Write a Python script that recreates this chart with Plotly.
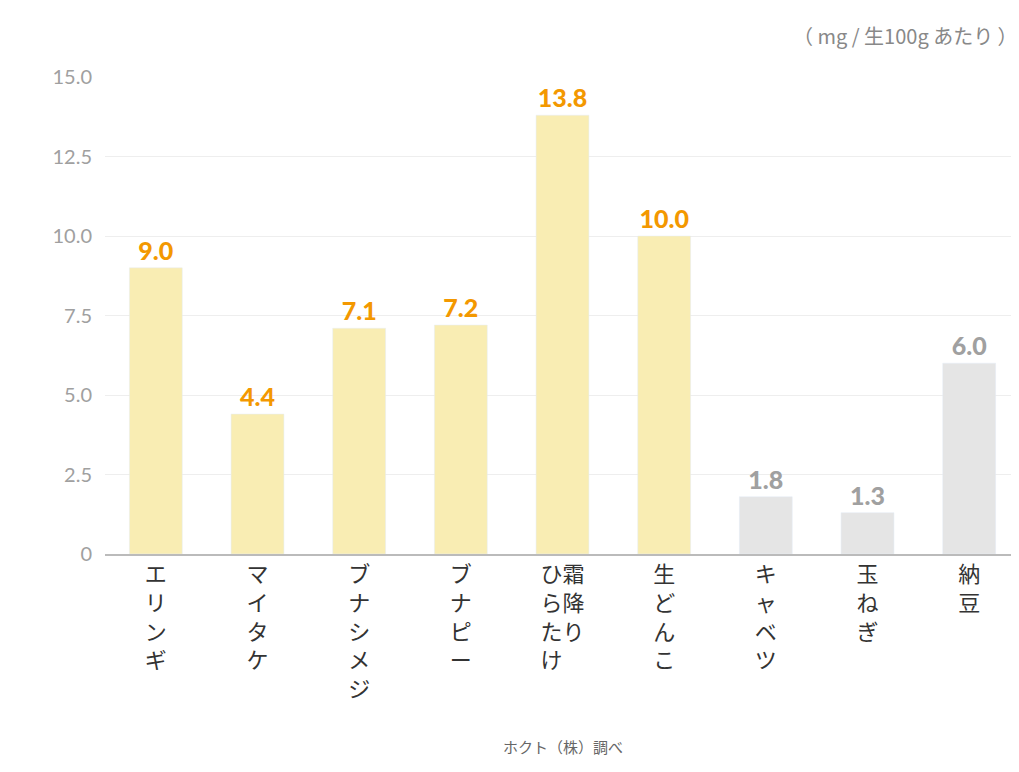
import plotly.graph_objects as go

categories = ["エリンギ", "マイタケ", "ブナシメジ", "ブナピー", "ひらたけ\n霜降り", "生どんこ", "キャベツ", "玉ねぎ", "納豆"]
values = [9.0, 4.4, 7.1, 7.2, 13.8, 10.0, 1.8, 1.3, 6.0]
highlight = [True, True, True, True, True, True, False, False, False]
tick_vals = [0, 2.5, 5, 7.5, 10, 12.5, 15]
tick_text = ["0", "2.5", "5.0", "7.5", "10.0", "12.5", "15.0"]

def vertical(s):
    cols = s.split("\n")
    n = max(len(c) for c in cols)
    rows = []
    for i in range(n):
        row = []
        for c in cols:
            row.append(c[i] if i < len(c) else "\u3000")
        rows.append("".join(row))
    return "<br>".join(rows)

labels = [vertical(c) for c in categories]
bar_colors = ["#F9EDB3" if h else "#E5E5E5" for h in highlight]
text_colors = ["#F39800" if h else "#A0A0A0" for h in highlight]

fig = go.Figure(go.Bar(
    x=list(range(len(values))), y=values, marker_color=bar_colors, width=0.52,
    text=[f"{v:.1f}" for v in values], textposition="outside",
    textfont=dict(color=text_colors, size=25, family="Lato Black, Lato"),
    cliponaxis=False,
))
fig.update_layout(
    width=1019, height=772, plot_bgcolor="white", paper_bgcolor="white",
    margin=dict(l=97, r=7, t=69, b=226), showlegend=False,
    font=dict(family="Noto Sans CJK JP"),
)
fig.update_xaxes(tickvals=list(range(len(values))), ticktext=labels, automargin=False,
                 tickfont=dict(size=22, color="#333333", family="Noto Sans CJK JP"),
                 showline=True, linecolor="#BBBBBB", linewidth=2, ticks="",
                 range=[-0.5, len(values) - 0.5])
fig.update_yaxes(range=[0, 15], tickvals=tick_vals, ticktext=tick_text, automargin=False,
                 tickfont=dict(size=20, color="#A0A0A0", family="Lato"),
                 gridcolor="#EEEEEE", zeroline=False, ticklen=8, ticks="outside",
                 tickcolor="white")
fig.add_annotation(text="（ mg / 生100g あたり ）", xref="paper", yref="paper", x=1, y=1,
                   yshift=42, xanchor="right", yanchor="middle", showarrow=False,
                   font=dict(size=20, color="#888888"))
fig.add_annotation(text="ホクト（株）調べ", xref="paper", yref="paper", x=0.5, y=0,
                   yshift=-192, xanchor="center", yanchor="middle", showarrow=False,
                   font=dict(size=15, color="#666666"))
fig.write_html("out.html")
